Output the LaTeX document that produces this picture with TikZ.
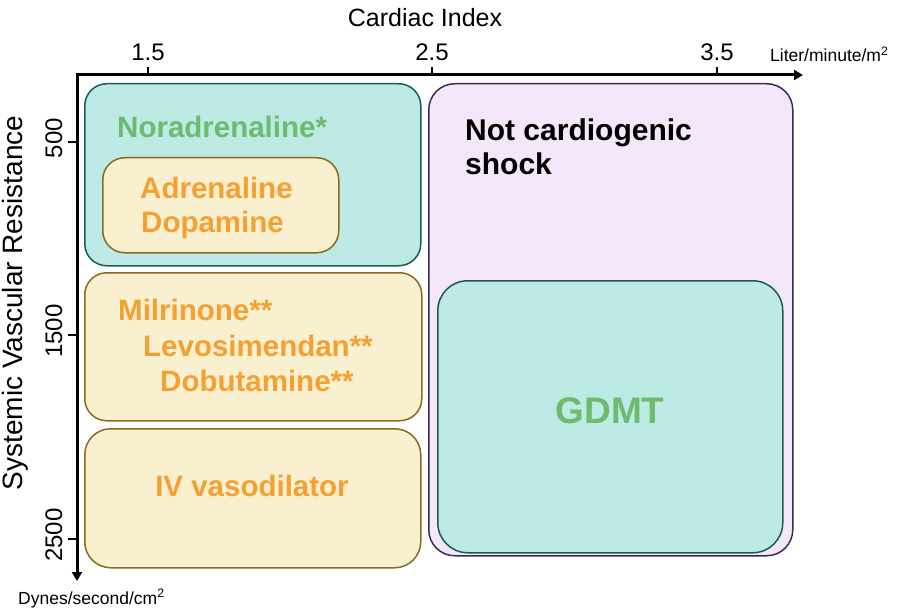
\documentclass[tikz,border=0pt]{standalone}
\usepackage{fontspec}
\setmainfont{Liberation Sans}
\usetikzlibrary{arrows.meta}
\definecolor{tealfill}{HTML}{BEEAE6}
\definecolor{tealline}{HTML}{1A5C54}
\definecolor{creamfill}{HTML}{F8F0CF}
\definecolor{creamline}{HTML}{8A6A1E}
\definecolor{lavfill}{HTML}{F3E7F9}
\definecolor{lavline}{HTML}{3B2A55}
\definecolor{greentxt}{HTML}{6DBB6D}
\definecolor{orangetxt}{HTML}{F5A033}
\tikzset{
  box/.style={draw, line width=1.5pt, inner sep=0pt, anchor=north west},
  tealbox/.style={box, fill=tealfill, draw=tealline},
  creambox/.style={box, fill=creamfill, draw=creamline},
  lavbox/.style={box, fill=lavfill, draw=lavline},
  axisline/.style={line width=3pt, -{Triangle[length=9pt,width=10pt]}},
  tickline/.style={line width=2pt},
  ticklab/.style={font=\fontsize{24}{28}\selectfont, inner sep=0pt},
  axlab/.style={font=\fontsize{25}{30}\selectfont, inner sep=0pt},
  unitlab/.style={font=\fontsize{17.5}{21}\selectfont, inner sep=0pt},
  drug/.style={font=\bfseries\fontsize{29.5}{35}\selectfont, inner sep=0pt, anchor=base west},
}
\begin{document}
\begin{tikzpicture}[x=1pt,y=-1pt]
\useasboundingbox (0,0) rectangle (900,615);
% boxes
\node[lavbox, rounded corners=26pt, minimum width=364pt, minimum height=472pt] (notc) at (428,83) {};
\node[tealbox, rounded corners=30pt, minimum width=345pt, minimum height=272pt] (gdmt) at (437,280) {};
\node[tealbox, rounded corners=22pt, minimum width=336pt, minimum height=182pt] (nor) at (84,83) {};
\node[creambox, rounded corners=22pt, minimum width=236pt, minimum height=95pt] (adr) at (102,157) {};
\node[creambox, rounded corners=22pt, minimum width=337pt, minimum height=148pt] (mil) at (84,272) {};
\node[creambox, rounded corners=26pt, minimum width=336pt, minimum height=139pt] (iv) at (84,428) {};
% axes
\coordinate (origin) at (77,75);
\coordinate (xend) at (803,75);
\coordinate (yend) at (77,581);
\draw[line width=3pt] (77,75) -- (75.5,75);
\draw[axisline] (origin) -- (xend);
\draw[axisline] (origin) -- (yend);
% x ticks
\foreach \xx/\lab/\nm in {148/1.5/xa, 432/2.5/xb, 717/3.5/xc}{
  \coordinate (\nm t) at (\xx,75);
  \draw[tickline] (\nm t) -- ++(0,-8);
  \node[ticklab, anchor=base] (\nm) at (\xx,61) {\lab};
}
% y ticks
\foreach \yy/\lab/\nm in {142/500/ya, 335/1500/yb, 539/2500/yc}{
  \coordinate (\nm t) at (77,\yy);
  \draw[tickline] (\nm t) -- ++(-9,0);
  \node[ticklab, rotate=90, anchor=base] (\nm) at (62,\yy-4) {\lab};
}
\node[axlab, anchor=base] (xtitle) at (425,27) {Cardiac Index};
\node[axlab, font=\fontsize{28}{32}\selectfont, rotate=90, anchor=base] (ytitle) at (23,303) {Systemic Vascular Resistance};
\node[unitlab, anchor=base west] (xunit) at (770,62) {Liter/minute/m\textsuperscript{2}};
\node[unitlab, anchor=base west] (yunit) at (18,604) {Dynes/second/cm\textsuperscript{2}};
% texts
\node[drug, text=greentxt] (tnor) at (117,138) {Noradrenaline*};
\node[drug, text=orangetxt] (tadr) at (140,198) {Adrenaline};
\node[drug, text=orangetxt] (tdop) at (141,233) {Dopamine};
\node[drug, text=orangetxt] (tmil) at (118,320) {Milrinone**};
\node[drug, text=orangetxt] (tlev) at (143,356) {Levosimendan**};
\node[drug, text=orangetxt] (tdob) at (160,391) {Dobutamine**};
\node[drug, text=orangetxt, anchor=base] (tiv) at (252,496) {IV vasodilator};
\node[drug, text=black, font=\bfseries\fontsize{30}{34}\selectfont] (tnot) at (465,141) {Not cardiogenic};
\node[drug, text=black, font=\bfseries\fontsize{30}{34}\selectfont] (tshock) at (465,175) {shock};
\node[drug, text=greentxt, font=\bfseries\fontsize{37}{40}\selectfont, anchor=base] (tgdmt) at (610,423) {GDMT};
\end{tikzpicture}
\end{document}
